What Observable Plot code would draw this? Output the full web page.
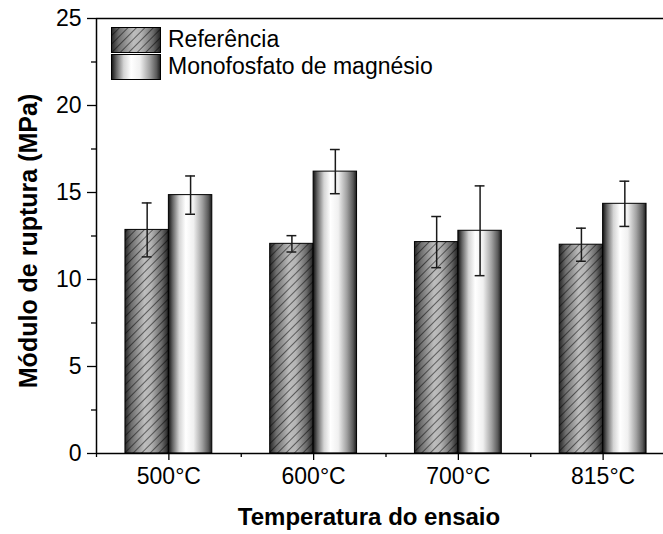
<!DOCTYPE html>
<html><head><meta charset="utf-8">
<script src="https://cdn.jsdelivr.net/npm/d3@7"></script>
<script src="https://cdn.jsdelivr.net/npm/@observablehq/plot@0.6"></script>
<style>
body{margin:0;background:#fff;font-family:"Liberation Sans",Arial,sans-serif;}
#wrap{position:relative;width:663px;height:534px;overflow:hidden;}
#legend{position:absolute;left:111px;top:26px;}
.row{display:flex;align-items:center;height:27px;}
.row svg{display:block}
.row span{font-size:23px;margin-left:7px;color:#000;}
</style></head><body>
<svg width="0" height="0" style="position:absolute">
<defs>
<linearGradient id="gRef" x1="0" x2="1" y1="0" y2="0">
 <stop offset="0" stop-color="#262626"/>
 <stop offset="0.15" stop-color="#6e6e6e"/>
 <stop offset="0.45" stop-color="#bdbdbd"/>
 <stop offset="0.6" stop-color="#b4b4b4"/>
 <stop offset="0.85" stop-color="#686868"/>
 <stop offset="1" stop-color="#222"/>
</linearGradient>
<linearGradient id="gMono" x1="0" x2="1" y1="0" y2="0">
 <stop offset="0" stop-color="#111"/>
 <stop offset="0.1" stop-color="#666"/>
 <stop offset="0.25" stop-color="#d4d4d4"/>
 <stop offset="0.4" stop-color="#fff"/>
 <stop offset="0.58" stop-color="#f0f0f0"/>
 <stop offset="0.78" stop-color="#a0a0a0"/>
 <stop offset="0.92" stop-color="#5a5a5a"/>
 <stop offset="1" stop-color="#1a1a1a"/>
</linearGradient>
<pattern id="hatch" patternUnits="userSpaceOnUse" width="6" height="10" patternTransform="rotate(45)">
 <line x1="0" y1="-1" x2="0" y2="11" stroke="#000" stroke-width="1"/>
</pattern>
</defs></svg>
<div id="wrap">
  <div id="chart"></div>
  <div id="legend">
    <div class="row"><svg width="50" height="26"><rect x="0.5" y="0.5" width="49" height="25" fill="url(#gRef)"/><rect x="0.5" y="0.5" width="49" height="25" fill="url(#hatch)" stroke="#000"/></svg><span>Referência</span></div>
    <div class="row"><svg width="50" height="26"><rect x="0.5" y="0.5" width="49" height="25" fill="url(#gMono)" stroke="#000"/></svg><span>Monofosfato de magnésio</span></div>
  </div>
</div>
<script>
const categories = ["500°C", "600°C", "700°C", "815°C"];
const refValues = [12.85, 12.05, 12.15, 12.0];
const refErr = [1.55, 0.47, 1.47, 0.95];
const monoValues = [14.85, 16.2, 12.8, 14.35];
const monoErr = [1.1, 1.27, 2.58, 1.3];
const yTicks = [0, 5, 10, 15, 20, 25];
const yMinor = [2.5, 7.5, 12.5, 17.5, 22.5];
const xMinor = [0.5, 1.5, 2.5, 3.5, 4.5];

const barW = 0.3, cap = 0.034;
const refRows = categories.map((c, k) => ({cat: c, i: k + 1, value: refValues[k], err: refErr[k], xc: k + 1 - barW / 2}));
const monoRows = categories.map((c, k) => ({cat: c, i: k + 1, value: monoValues[k], err: monoErr[k], xc: k + 1 + barW / 2}));
const allRows = refRows.concat(monoRows);

const chart = Plot.plot({
  width: 663,
  height: 534,
  marginLeft: 96,
  marginRight: 0,
  marginTop: 18,
  marginBottom: 81,
  style: {fontFamily: "'Liberation Sans', Arial, sans-serif", overflow: "hidden", background: "transparent", color: "#000"},
  x: {type: "linear", domain: [0.5, 4.5], range: [96, 675]},
  y: {domain: [0, 25]},
  marks: [
    Plot.rect(refRows, {x1: d => d.i - barW, x2: d => d.i, y1: 0, y2: "value", fill: "url(#gRef)"}),
    Plot.rect(refRows, {x1: d => d.i - barW, x2: d => d.i, y1: 0, y2: "value", fill: "url(#hatch)", stroke: "#000", strokeWidth: 1}),
    Plot.rect(monoRows, {x1: d => d.i, x2: d => d.i + barW, y1: 0, y2: "value", fill: "url(#gMono)", stroke: "#000", strokeWidth: 1}),
    Plot.ruleX(allRows, {x: "xc", y1: d => d.value - d.err, y2: d => d.value + d.err, stroke: "#1a1a1a", strokeWidth: 1.5}),
    Plot.ruleY(allRows, {y: d => d.value + d.err, x1: d => d.xc - cap, x2: d => d.xc + cap, stroke: "#1a1a1a", strokeWidth: 1.5}),
    Plot.ruleY(allRows, {y: d => d.value - d.err, x1: d => d.xc - cap, x2: d => d.xc + cap, stroke: "#1a1a1a", strokeWidth: 1.5}),
    Plot.ruleY([0], {stroke: "#000", strokeWidth: 1.5}),
    Plot.ruleY([25], {stroke: "#000", strokeWidth: 1.5}),
    Plot.ruleX([0.5], {stroke: "#000", strokeWidth: 1.5}),
    Plot.axisY({ticks: yTicks, tickSize: 9, tickPadding: 6, fontSize: 23, label: null, strokeWidth: 1.3}),
    Plot.axisY({ticks: yMinor, tickSize: 5, tickFormat: () => "", label: null, strokeWidth: 1.3}),
    Plot.axisX({ticks: [1, 2, 3, 4], tickFormat: i => categories[i - 1], tickSize: 7, tickPadding: 7, fontSize: 23, label: null, strokeWidth: 1.3}),
    Plot.axisX({ticks: xMinor, tickSize: 4, tickFormat: () => "", label: null, strokeWidth: 1.3}),
    Plot.text(["Temperatura do ensaio"], {frameAnchor: "bottom", dx: -11, dy: 71, fontSize: 24, fontWeight: "bold"}),
    Plot.text(["Módulo de ruptura (MPa)"], {frameAnchor: "left", textAnchor: "middle", rotate: -90, dx: -68, dy: 5, fontSize: 25, fontWeight: "bold"})
  ]
});
document.getElementById("chart").appendChild(chart);
</script>
</body></html>
